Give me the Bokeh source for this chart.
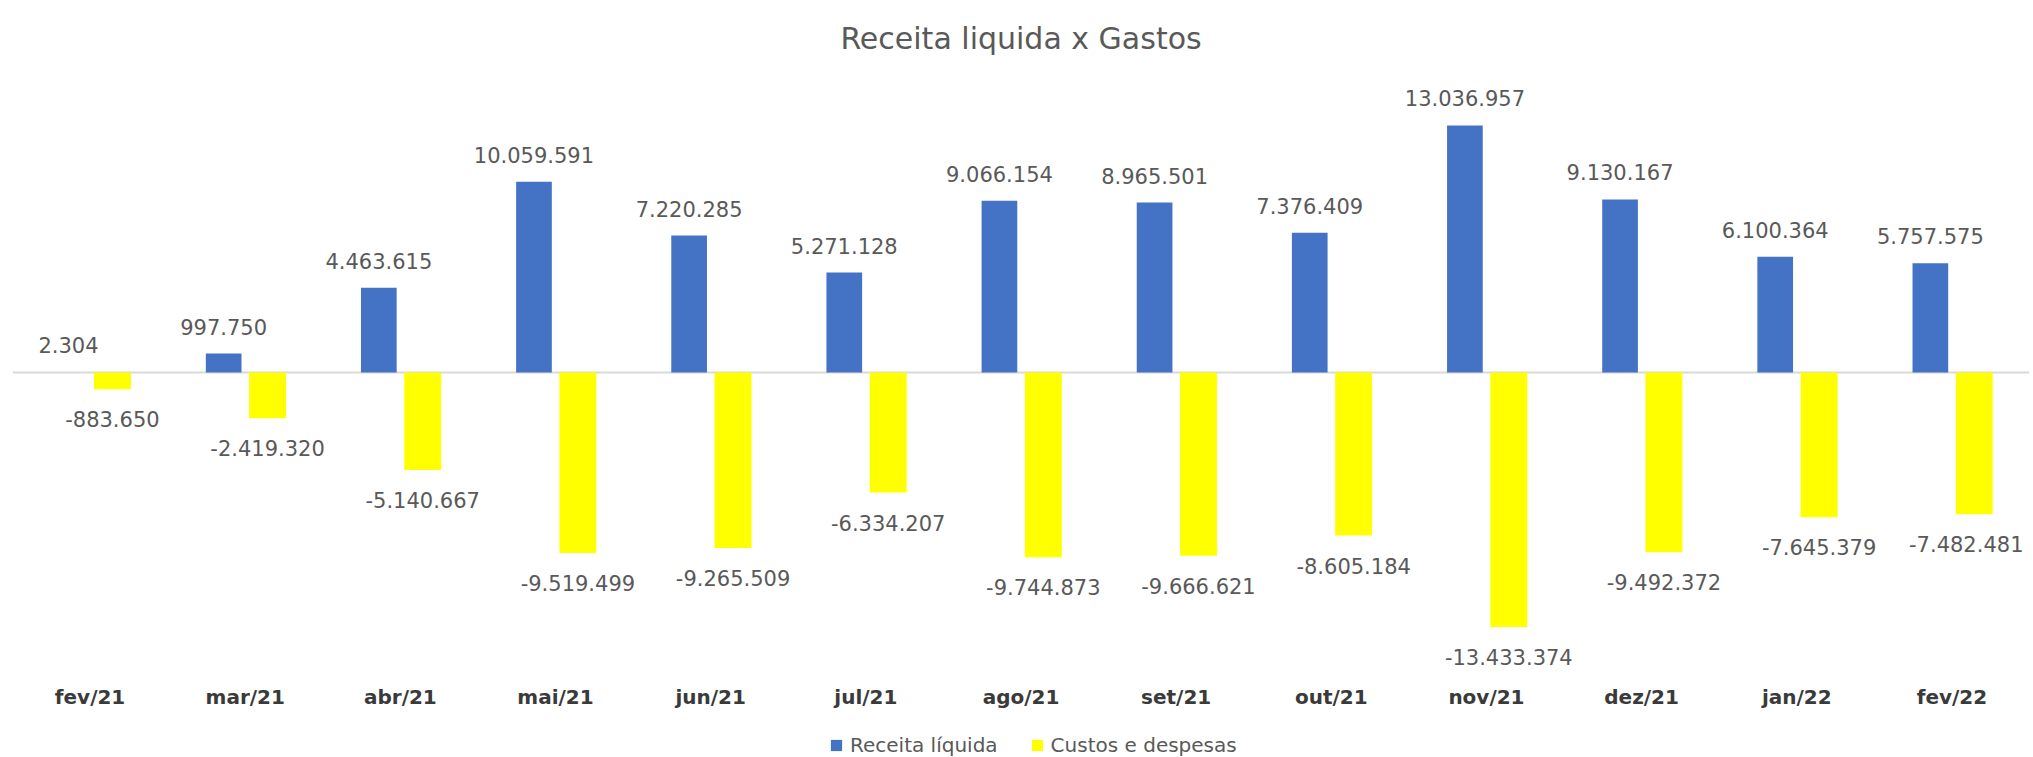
from bokeh.plotting import figure
from bokeh.layouts import column
from bokeh.models import ColumnDataSource, FactorRange, Range1d, Span, Legend, LegendItem
from bokeh.transform import dodge
from bokeh.embed import file_html
from bokeh.resources import INLINE
from bokeh.core.properties import value

# ---- data ----
categories = ["fev/21", "mar/21", "abr/21", "mai/21", "jun/21", "jul/21", "ago/21",
              "set/21", "out/21", "nov/21", "dez/21", "jan/22", "fev/22"]
receita_liquida = [2304, 997750, 4463615, 10059591, 7220285, 5271128, 9066154,
                   8965501, 7376409, 13036957, 9130167, 6100364, 5757575]
custos_despesas = [-883650, -2419320, -5140667, -9519499, -9265509, -6334207, -9744873,
                   -9666621, -8605184, -13433374, -9492372, -7645379, -7482481]
series_names = ["Receita líquida", "Custos e despesas"]
title_text = "Receita liquida x Gastos"

# ---- style ----
FONT = "DejaVu Sans"
BLUE = "#4472C4"
YELLOW = "#FFFF00"
GRAY_TXT = "#595959"
AXIS_TXT = "#3A3A3A"
W = 2033

def fmt(v):
    return f"{v:,}".replace(",", ".")

n = len(categories)
# small horizontal nudge (px) so the right-most label stays inside the chart
cus_nudge = [0] * n
cus_nudge[-1] = -8

src = ColumnDataSource(dict(
    cat=categories,
    rec=receita_liquida,
    cus=custos_despesas,
    rec_lbl=[fmt(v) for v in receita_liquida],
    cus_lbl=[fmt(v) for v in custos_despesas],
    cus_dx=cus_nudge,
))

# ---------------- main chart ----------------
p = figure(
    x_range=FactorRange(factors=categories, range_padding=0),
    y_range=Range1d(-15.62e6, 16.46e6),
    width=W, height=727,
    output_backend="svg", toolbar_location=None,
    min_border_left=12, min_border_right=4, min_border_top=60, min_border_bottom=59,
)

p.vbar(x=dodge("cat", -0.139, range=p.x_range), top="rec", bottom=0, width=0.23,
       fill_color=BLUE, line_color=None, source=src)
p.vbar(x=dodge("cat", 0.144, range=p.x_range), top="cus", bottom=0, width=0.238,
       fill_color=YELLOW, line_color=None, source=src)

p.text(x=dodge("cat", -0.139, range=p.x_range), y="rec", text="rec_lbl", source=src,
       y_offset=-27, text_align="center", text_baseline="middle",
       text_font=value(FONT), text_font_size="21px", text_color=GRAY_TXT)
p.text(x=dodge("cat", 0.144, range=p.x_range), y="cus", text="cus_lbl", source=src,
       x_offset="cus_dx", y_offset=30, text_align="center", text_baseline="middle",
       text_font=value(FONT), text_font_size="21px", text_color=GRAY_TXT)

p.add_layout(Span(location=0, dimension="width", line_color="#D9D9D9",
                  line_width=2, level="underlay"))

p.yaxis.visible = False
p.xgrid.visible = False
p.ygrid.visible = False
p.outline_line_color = None
p.xaxis.axis_line_color = None
p.xaxis.major_tick_line_color = None
p.xaxis.minor_tick_line_color = None
p.xaxis.major_label_text_font = FONT
p.xaxis.major_label_text_font_size = "20px"
p.xaxis.major_label_text_font_style = "bold"
p.xaxis.major_label_text_color = AXIS_TXT
p.xaxis.major_label_standoff = 10

p.title.text = title_text
p.title.align = "center"
p.title.text_font = FONT
p.title.text_font_size = "30px"
p.title.text_font_style = "normal"
p.title.text_color = GRAY_TXT

# ---------------- legend strip ----------------
lg = figure(
    x_range=FactorRange(factors=categories, range_padding=0),
    y_range=Range1d(1e9, 2e9),   # keeps the legend's own bars out of view
    width=W, height=30,
    output_backend="svg", toolbar_location=None,
    min_border_left=0, min_border_right=0, min_border_top=0, min_border_bottom=0,
)
lr_rec = lg.vbar(x="cat", top="rec", bottom=0, width=0.23,
                 fill_color=BLUE, line_color=None, source=src)
lr_cus = lg.vbar(x="cat", top="cus", bottom=0, width=0.238,
                 fill_color=YELLOW, line_color=None, source=src)
lg.axis.visible = False
lg.grid.visible = False
lg.outline_line_color = None

legend = Legend(
    items=[LegendItem(label=series_names[0], renderers=[lr_rec]),
           LegendItem(label=series_names[1], renderers=[lr_cus])],
    orientation="horizontal", location=(817, 0),
    border_line_color=None, background_fill_alpha=0,
    label_text_font=FONT, label_text_font_size="20px", label_text_color=GRAY_TXT,
    glyph_width=14, glyph_height=14, label_standoff=7, spacing=32,
    padding=0, margin=0,
)
lg.add_layout(legend, "center")

layout = column(p, lg, spacing=0)
open("out.html", "w").write(file_html(layout, INLINE))
